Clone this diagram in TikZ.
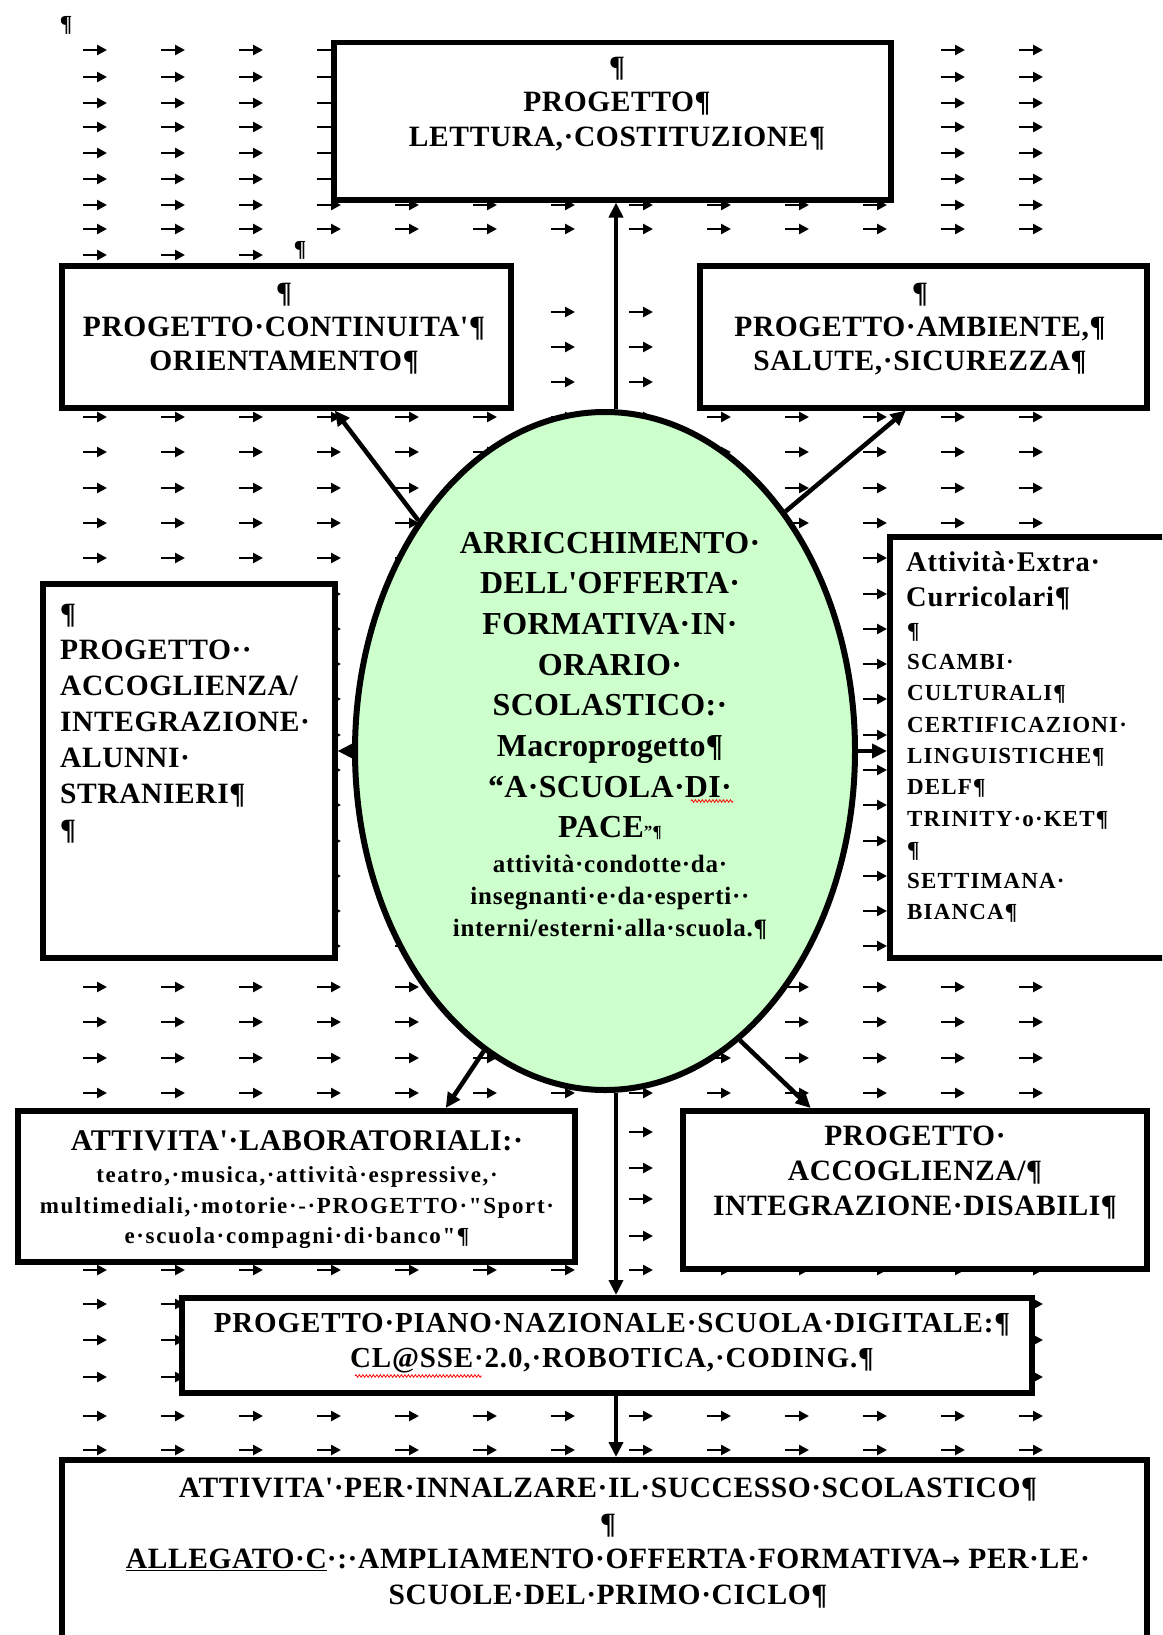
\documentclass[tikz,border=0pt]{standalone}
\usepackage{fontspec}
\setmainfont{Liberation Serif}
\newfontfamily\fA{Liberation Serif}[LetterSpace=2]
\newfontfamily\fB{Liberation Serif}[LetterSpace=1]
\newfontfamily\fC{Liberation Serif}[LetterSpace=3]
\newfontfamily\fD{Liberation Serif}[LetterSpace=5]
\newfontfamily\fE{Liberation Serif}[LetterSpace=7]
\newfontfamily\fF{Liberation Serif}[LetterSpace=3]
\newfontfamily\djv{DejaVu Sans}
\usetikzlibrary{shapes.geometric,arrows.meta,decorations.pathmorphing}
\definecolor{ellgreen}{RGB}{204,255,204}
\newcommand\Tf[3]{#1\bfseries\fontsize{#2}{#3}\selectfont}
\begin{document}
\begin{tikzpicture}[x=1pt,y=-1pt,
  box/.style={draw, rectangle, line width=5.5, fill=white, inner sep=0, anchor=north west},
  txt/.style={inner sep=0, align=center},
  tabarr/.style={line width=2.6, -{Triangle[length=10pt,width=10pt]}},
  conn/.style={line width=4.5, -{Triangle[length=15pt,width=14pt]}},
  squig/.style={red, line width=0.8, decorate, decoration={zigzag, amplitude=1.3pt, segment length=3.5pt}}]
\useasboundingbox (0,0) rectangle (1162,1635);
\begin{scope}
\clip (0,0) rectangle (1162,1635);
% background tab arrows
\foreach \yy in {50,77,103,127,153,179,205,229,312,347,382,417,452,488,523,558,594,629,664,699,735,770,805,841,876,911,946,987,1022,1058,1093,1132,1168,1199,1236,1270,1304,1340,1377,1416,1450}{
  \foreach \xx in {83,161,...,1019}{\draw[tabarr] (\xx,\yy) -- ++(24,0);}
}
\foreach \xx in {83,161,239}{\draw[tabarr] (\xx,255) -- ++(24,0);}
% pilcrows
\node[txt, font={\Tf\fA{23}{24}}] (p1) at (66,25) {¶};
\node[txt, font={\Tf\fA{23}{24}}] (p2) at (300,250) {¶};
% boxes
\node[box, minimum width=557, minimum height=157] (top) at (331,40) {};
\node[box, minimum width=449, minimum height=142] (cont) at (59,263) {};
\node[box, minimum width=447, minimum height=142] (amb) at (697,263) {};
\node[box, minimum width=292, minimum height=374] (left) at (40,581) {};
\node[box, minimum width=300, minimum height=421] (right) at (887,534) {};
\node[box, minimum width=557, minimum height=151] (lab) at (15,1108) {};
\node[box, minimum width=464, minimum height=158] (dis) at (680,1108) {};
\node[box, minimum width=850, minimum height=95] (piano) at (179,1295) {};
\node[box, minimum width=1085, minimum height=230] (bot) at (59,1457) {};
% central ellipse
\node[ellipse, draw, line width=6, fill=ellgreen, minimum width=500, minimum height=678, inner sep=0] (ell) at (605,751) {};
% connectors
\draw[conn] ([xshift=11]ell.north) -- ([xshift=11]ell.north |- top.south);
\draw[conn] (ell.129) -- ([xshift=48.5]cont.south);
\draw[conn] (ell.53) -- ([xshift=-17.5]amb.south);
\draw[conn] (ell.west) -- (ell.west -| left.east);
\draw[conn] (ell.east) -- (ell.east -| right.west);
\draw[conn] (ell.248) -- ([xshift=149.5]lab.north);
\draw[conn] (ell.295) -- ([xshift=-104]dis.north);
\draw[conn] ([xshift=11]ell.south) -- ([xshift=11]ell.south |- piano.north);
\draw[conn] ([xshift=11]piano.south -| ell.south) -- ([xshift=11]bot.north -| ell.south);
% texts
\node[txt, font={\Tf\fA{29.5}{35}}] (ttop) at (617,104) {¶\\PROGETTO¶\\LETTURA,·COSTITUZIONE¶};
\node[txt, font={\Tf\fA{29.5}{34}}] (tcont) at (284,329) {¶\\PROGETTO·CONTINUITA'¶\\ORIENTAMENTO¶};
\node[txt, font={\Tf\fA{29.5}{34}}] (tamb) at (920,329) {¶\\PROGETTO·AMBIENTE,¶\\SALUTE,·SICUREZZA¶};
\node[txt, align=left, anchor=west, font={\Tf\fA{29.5}{36}}] (tleft) at (60,724) {¶\\PROGETTO··\\ACCOGLIENZA/\\INTEGRAZIONE·\\ALUNNI·\\STRANIERI¶\\¶};
\node[txt, align=left, anchor=west, font={\Tf\fC{28.5}{35}}] (tr1) at (906,581) {Attività·Extra·\\Curricolari¶};
\node[txt, align=left, anchor=west, font={\Tf\fD{23}{31.3}}] (tr2) at (907,773) {¶\\SCAMBI·\\CULTURALI¶\\CERTIFICAZIONI·\\LINGUISTICHE¶\\DELF¶\\TRINITY·o·KET¶\\¶\\SETTIMANA·\\BIANCA¶};
\node[txt, font={\Tf\fB{32}{40.7}}] (tell1) at (610,686) {ARRICCHIMENTO·\\DELL'OFFERTA·\\FORMATIVA·IN·\\ORARIO·\\SCOLASTICO:·\\Macroprogetto¶\\“A·SCUOLA·DI·\\PACE{\fontsize{17}{17}\selectfont”¶}};
\node[txt, font={\Tf\fC{25}{32}}] (tell2) at (610,897) {attività·condotte·da·\\insegnanti·e·da·esperti··\\interni/esterni·alla·scuola.¶};
\node[txt, font={\Tf\fA{30}{34}}] (tlab1) at (297,1141) {ATTIVITA'·LABORATORIALI:·};
\node[txt, font={\Tf\fE{23}{30.5}}] (tlab2) at (297,1208) {teatro,·musica,·attività·espressive,·\\multimediali,·motorie·-·PROGETTO·"Sport·\\e·scuola·compagni·di·banco"¶};
\node[txt, font={\Tf\fA{29.5}{35}}] (tdis) at (915,1173) {PROGETTO·\\ACCOGLIENZA/¶\\INTEGRAZIONE·DISABILI¶};
\node[txt, font={\Tf\fF{29}{35}}] (tpiano) at (612,1343) {PROGETTO·PIANO·NAZIONALE·SCUOLA·DIGITALE:¶\\CL@SSE·2.0,·ROBOTICA,·CODING.¶};
\node[txt, font={\Tf\fA{29.5}{35.5}}] (tbot) at (608,1543) {ATTIVITA'·PER·INNALZARE·IL·SUCCESSO·SCOLASTICO¶\\¶\\\underline{ALLEGATO·C}·:·AMPLIAMENTO·OFFERTA·FORMATIVA{\djv\bfseries\fontsize{22}{22}\selectfont →}\;PER·LE·\\SCUOLE·DEL·PRIMO·CICLO¶};
% spelling marks
\draw[squig] (691,801) -- (733,801);
\draw[squig] (355,1376) -- (482,1376);
\end{scope}
\end{tikzpicture}
\end{document}
